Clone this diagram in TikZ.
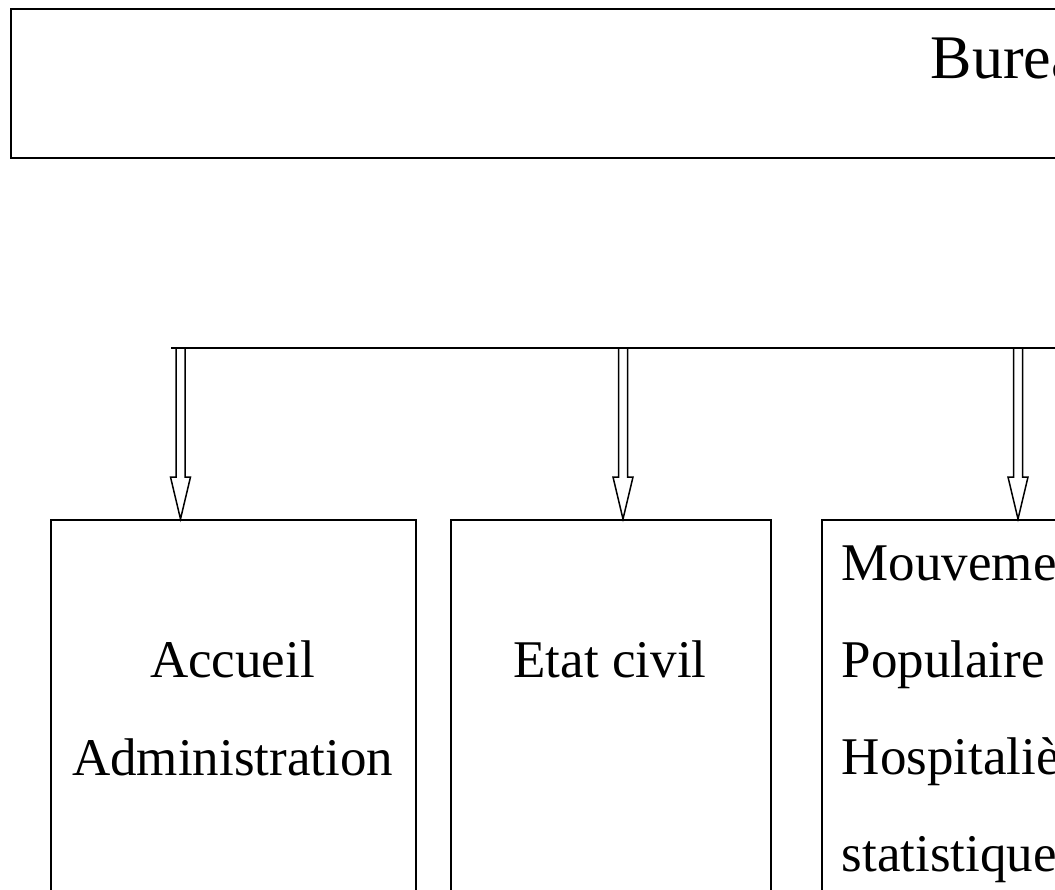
\documentclass[tikz,border=0pt]{standalone}
\usepackage{fontspec}
\setmainfont{Liberation Serif}
\usetikzlibrary{calc}
\begin{document}
\begin{tikzpicture}[x=1pt,y=-1pt, line width=1.5pt,
  box/.style={draw, rectangle, inner sep=0pt},
  lbl/.style={inner sep=0pt, font=\fontsize{53}{60}\selectfont},
  title/.style={inner sep=0pt, font=\fontsize{62}{70}\selectfont},
  hollowarrow/.style={to path={let \p1=(\tikztostart), \p2=(\tikztotarget) in
    (\x1-4.5pt,\y1) -- (\x1-4.5pt,\y2+42pt) -- (\x1-10pt,\y2+42pt) -- (\x1,\y2)
    -- (\x1+10pt,\y2+42pt) -- (\x1+4.5pt,\y2+42pt) -- (\x1+4.5pt,\y1)}}
]
\useasboundingbox (0,0) rectangle (1055,889);
\clip (0,0) rectangle (1055,889);
% top box
\node[box, minimum width=1100pt, minimum height=149pt, anchor=north west] (top) at (10,8) {};
\node[title, anchor=base west] (toptext) at (930,78) {Bureau};
% bus
\coordinate (busL) at (171,348);
\coordinate (busR) at (1100,348);
\draw (busL) -- (busR);
% boxes
\node[box, minimum width=365pt, minimum height=500pt, anchor=north west] (b1) at (50,519) {};
\node[box, minimum width=320pt, minimum height=500pt, anchor=north west] (b2) at (450,519) {};
\node[box, minimum width=400pt, minimum height=500pt, anchor=north west] (b3) at (821,519) {};
% texts
\node[lbl, anchor=base] (t1a) at (232.5,677) {Accueil};
\node[lbl, anchor=base] (t1b) at (232.5,775) {Administration};
\node[lbl, anchor=base] (t2a) at (610,677) {Etat civil};
\node[lbl, anchor=base west] (t3a) at (841,580) {Mouvement};
\node[lbl, anchor=base west] (t3b) at (841,677) {Populaire};
\node[lbl, anchor=base west] (t3c) at (841,774) {Hospitalière};
\node[lbl, anchor=base west] (t3d) at (841,871) {statistique};
% arrows
\coordinate (a1) at (180.5,348);
\coordinate (a2) at (623,348);
\coordinate (a3) at (1018,348);
\draw (a1) to[hollowarrow] (a1 |- b1.north);
\draw (a2) to[hollowarrow] (a2 |- b2.north);
\draw (a3) to[hollowarrow] (a3 |- b3.north);
\end{tikzpicture}
\end{document}
